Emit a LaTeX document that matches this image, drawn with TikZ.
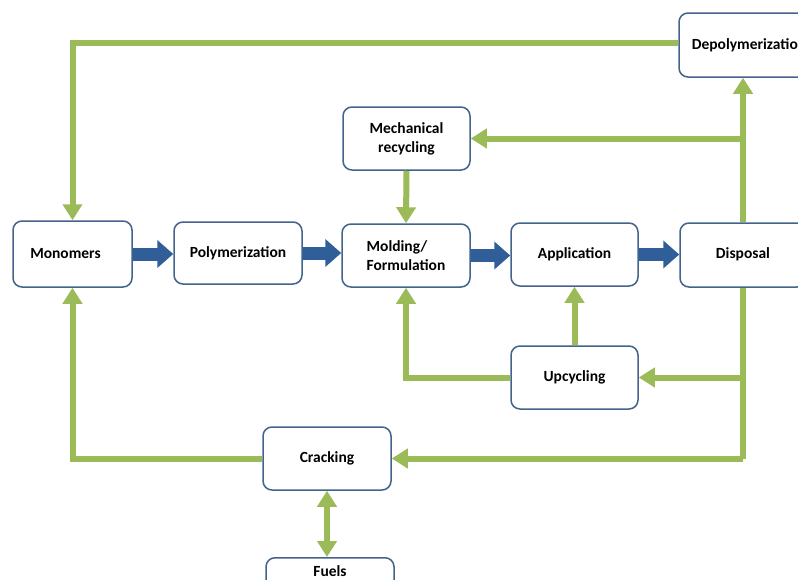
\documentclass[tikz,border=0pt]{standalone}
\usepackage{fontspec}
\setmainfont{Carlito}
\usetikzlibrary{arrows.meta}
\definecolor{gr}{HTML}{9BBB59}
\definecolor{bl}{HTML}{2F5E98}
\definecolor{bd}{HTML}{41638C}
\tikzset{
  box/.style={draw=bd, line width=1.5pt, rounded corners=9pt, fill=white,
    font=\fontsize{15.5}{19}\selectfont\bfseries, inner sep=2pt},
  garr/.style={draw=gr, line width=6pt, -{Triangle[width=19pt,length=16pt]}},
  gline/.style={draw=gr, line width=6pt},
  barr/.style={draw=bl, line width=13pt, -{Triangle[width=27pt,length=16pt]}}
}
\begin{document}
\begin{tikzpicture}[x=1pt,y=-1pt]
\useasboundingbox (0,0) rectangle (798,579);
\clip (0,0) rectangle (798,579);
% boxes
\node[box, minimum width=119pt, minimum height=66pt] (mono) at (72.5,254) {Monomers\hspace*{14pt}};
\node[box, minimum width=128pt, minimum height=62pt] (poly) at (238,253) {Polymerization};
\node[box, minimum width=128pt, minimum height=63pt, align=left] (mold) at (406,255.5) {Molding/\\Formulation};
\node[box, minimum width=127pt, minimum height=63pt] (app) at (574.5,254.5) {Application};
\node[box, minimum width=126pt, minimum height=64pt] (disp) at (743,255) {\raisebox{3pt}{Disposal}};
\node[box, minimum width=140pt, minimum height=64pt] (depoly) at (749,45) {Depolymerization};
\node[box, minimum width=127pt, minimum height=63pt, align=center] (mech) at (406.5,138.5) {\raisebox{-2pt}{Mechanical}\\\raisebox{-2pt}{recycling}};
\node[box, minimum width=127pt, minimum height=63pt] (up) at (574.5,377.5) {\raisebox{-2pt}{Upcycling}};
\node[box, minimum width=128pt, minimum height=63pt] (crack) at (327,458.5) {\raisebox{-1.5pt}{Cracking}};
\node[box, minimum width=128pt, minimum height=64pt, anchor=north,
  label={[anchor=north, yshift=-5pt, font=\fontsize{15.5}{19}\selectfont\bfseries]north:Fuels}] (fuels) at (330,557) {};
% blue process arrows
\draw[barr] (mono.east) -- (poly.west |- mono.east);
\draw[barr] (poly.east) -- (mold.west |- poly.east);
\draw[barr] (mold.east) -- (app.west |- mold.east);
\draw[barr] (app.east) -- (disp.west |- app.east);
% green loops
\draw[garr] (depoly.west |- 0,43) -| (mono.north);
\draw[garr] (crack.west) -| (mono.south);
\coordinate (jt) at (disp.north |- mech.east);
\draw[garr] (disp.north) -- (disp.north |- depoly.south);
\draw[garr] (jt) -- (mech.east);
\draw[garr] (mech.south) -- (mold.north);
\coordinate (jb) at (disp.south |- crack.east);
\coordinate (ju) at (disp.south |- up.east);
\draw[gline] (disp.south) -- (jb);
\draw[garr] (jb) -- (crack.east);
\draw[garr] (ju) -- (up.east);
\draw[garr] (up.north) -- (app.south);
\draw[garr] (up.west) -| (mold.south);
\draw[garr, {Triangle[width=19pt,length=16pt]}-{Triangle[width=19pt,length=16pt]}] (crack.south) -- (crack.south |- fuels.north);
\end{tikzpicture}
\end{document}
